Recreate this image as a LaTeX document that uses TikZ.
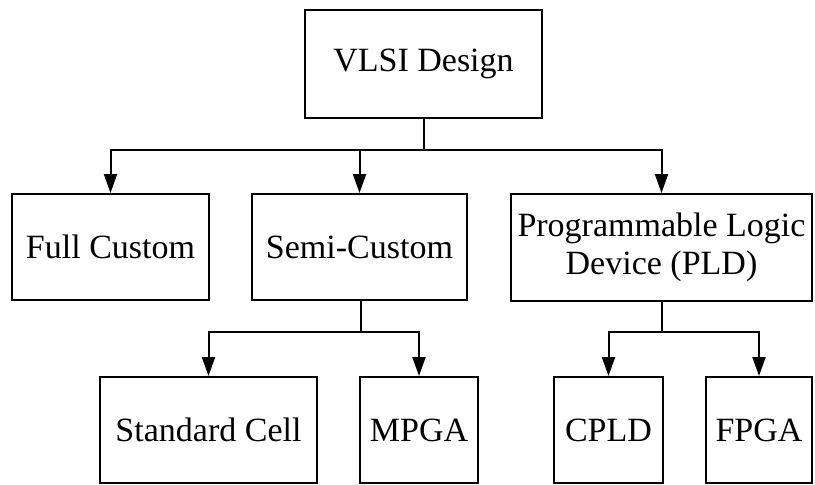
\documentclass[tikz,border=0pt]{standalone}
\usepackage{fontspec}
\setmainfont{Liberation Serif}
\usetikzlibrary{arrows.meta}
\begin{document}
\begin{tikzpicture}[x=1pt,y=-1pt,
  box/.style={draw,line width=2pt,inner sep=0pt,align=center,
    font=\fontsize{34}{38}\selectfont},
  link/.style={line width=2pt},
  arr/.style={link,-{Triangle[length=19pt,width=13pt]}}]
\useasboundingbox (0,0) rectangle (815,485);
\fill[white] (0,0) rectangle (815,485);
\node[box,minimum width=237pt,minimum height=108pt] (vlsi) at (423.5,64) {VLSI Design};
\node[box,minimum width=197pt,minimum height=106pt] (full) at (110.5,247) {Full Custom};
\node[box,minimum width=215pt,minimum height=106pt] (semi) at (359.5,247) {Semi-Custom};
\node[box,minimum width=301pt,minimum height=107pt] (pld) at (661.5,247.5) {Programmable Logic\\Device (PLD)};
\node[box,minimum width=217pt,minimum height=106pt] (std) at (208.5,430) {Standard Cell};
\node[box,minimum width=118pt,minimum height=106pt] (mpga) at (419,430) {MPGA};
\node[box,minimum width=109pt,minimum height=106pt] (cpld) at (608.5,430) {CPLD};
\node[box,minimum width=106pt,minimum height=106pt] (fpga) at (759,430) {FPGA};
\coordinate (j1) at (423.5,150);
\coordinate (j2) at (360.5,332);
\coordinate (j3) at (661.5,332);
\draw[link] (vlsi.south) -- (j1);
\draw[arr] (j1) -| (full.north);
\draw[arr] (j1) -| (semi.north);
\draw[arr] (j1) -| (pld.north);
\draw[link] (semi.south -| j2) -- (j2);
\draw[arr] (j2) -| (std.north);
\draw[arr] (j2) -| (mpga.north);
\draw[link] (pld.south) -- (j3);
\draw[arr] (j3) -| (cpld.north);
\draw[arr] (j3) -| (fpga.north);
\end{tikzpicture}
\end{document}
